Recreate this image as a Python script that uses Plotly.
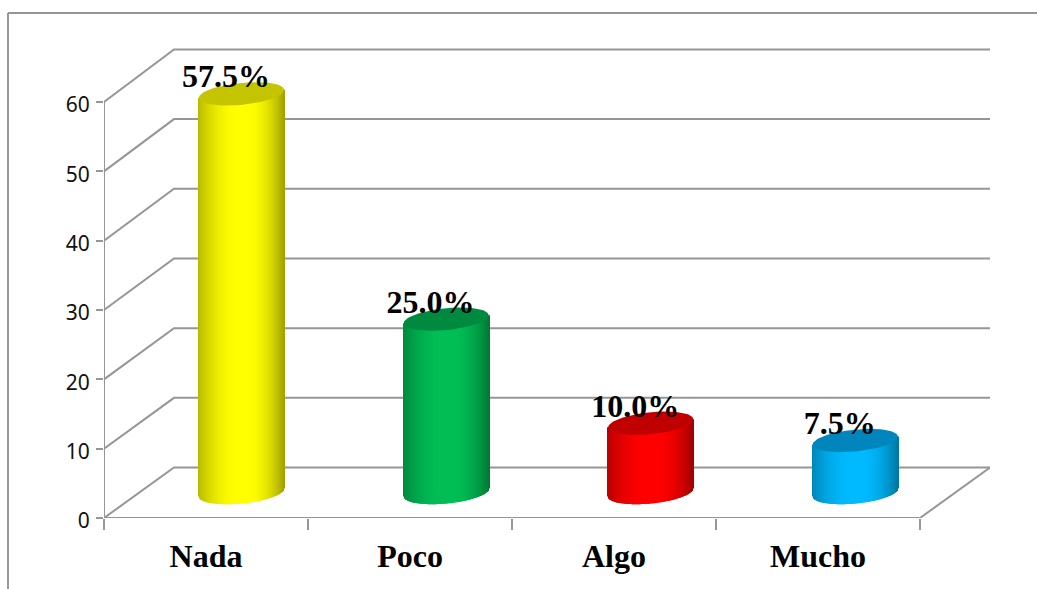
import numpy as np
import plotly.graph_objects as go

categories = ["Nada", "Poco", "Algo", "Mucho"]
values = [57.5, 25.0, 10.0, 7.5]
labels = ["57.5%", "25.0%", "10.0%", "7.5%"]
side_colors = [(255, 255, 0), (0, 190, 85), (255, 0, 0), (0, 186, 255)]
top_colors = ["#c4c400", "#008a40", "#c00000", "#0086bc"]
y_ticks = [0, 10, 20, 30, 40, 50, 60]

W, H = 1037, 589
L, R, T, B = 104, 990, 47, 518
PX_Y = 416 / 60
PX_X = 204.0
GREY = "#969696"

x_min = -0.5
x_front = 3.5
x_max = x_front + (R - 920) / PX_X
y_max = (B - T) / PX_Y
dx = 70 / PX_X
dy = 50.5 / PX_Y
back_gain = 1.005    # the back wall is drawn a touch taller than the front

bx = 35.5 / PX_X     # bar sits half way into the depth of the floor
step = 1.003
by = 25.5 / PX_Y
half = 42.5 / PX_X
ry = 11 / PX_Y
tilt = 4 / PX_Y
n = 86

fig = go.Figure()

# Walls and floor (bottom subplot, underneath the bars)
gx, gy = [], []
for v in y_ticks:
    gx += [x_min, x_min + dx, x_max, None]
    gy += [v, v * back_gain + dy, v * back_gain + dy, None]
gx += [x_min, x_min, None, x_min, x_front, x_max]
gy += [0, y_ticks[-1], None, 0, 0, dy]
fig.add_trace(go.Scatter(x=gx, y=gy, mode="lines", line=dict(color=GREY, width=2),
                         cliponaxis=False, hoverinfo="skip", showlegend=False))

t = np.linspace(-1, 1, n)
strip = 2 * half / (n - 1) * 1.2


def shade(u):
    left = 1 - 0.27 * np.clip((-u - 0.05) / 0.95, 0, 1) ** 2
    right = 1 - 0.36 * np.clip((u - 0.15) / 0.85, 0, 1) ** 2
    return left * right


for i, v in enumerate(values):
    cx = i * step + bx
    base = by - ry * np.sqrt(1 - t ** 2) + tilt * t
    top = by + v + tilt * t
    s = shade(t)
    cols = [f"rgb({int(side_colors[i][0]*k)},{int(side_colors[i][1]*k)},{int(side_colors[i][2]*k)})" for k in s]
    fig.add_trace(go.Bar(x=cx + half * t, y=top - base, base=base, width=strip,
                         marker=dict(color=cols, line=dict(width=0)),
                         xaxis="x2", yaxis="y2", hoverinfo="skip", showlegend=False))
    th = np.linspace(0, 2 * np.pi, 80)
    fig.add_trace(go.Scatter(x=cx + half * np.cos(th),
                             y=by + v + ry * np.sin(th) + tilt * np.cos(th),
                             mode="lines", fill="toself", fillcolor=top_colors[i],
                             line=dict(width=0, color=top_colors[i]),
                             xaxis="x2", yaxis="y2", hoverinfo="skip", showlegend=False))

fig.add_trace(go.Scatter(
    x=[i * step + bx - 15.5 / PX_X for i in range(len(values))],
    y=[by + v + 14.5 / PX_Y for v in values],
    mode="text", text=labels, textposition="middle center",
    textfont=dict(family="Liberation Serif", size=32, color="black"),
    texttemplate="<b>%{text}</b>",
    xaxis="x2", yaxis="y2", cliponaxis=False, hoverinfo="skip", showlegend=False))


def paper_x(p):
    return (p - L) / (R - L)


def paper_y(p):
    return (B - p) / (B - T)


frame = dict(type="line", xref="paper", yref="paper", layer="below",
             line=dict(color=GREY, width=2))

fig.update_layout(
    width=W, height=H, autosize=False,
    margin=dict(l=L, r=W - R, t=T, b=H - B, autoexpand=False),
    paper_bgcolor="white", plot_bgcolor="white",
    barmode="overlay", showlegend=False,
    shapes=[
        dict(frame, x0=paper_x(8), x1=paper_x(8), y0=paper_y(H), y1=paper_y(13)),
        dict(frame, x0=paper_x(8), x1=paper_x(W), y0=paper_y(13), y1=paper_y(13)),
    ],
    xaxis=dict(range=[x_min, x_max], showgrid=False, zeroline=False, showline=False,
               tickmode="array", tickvals=list(range(len(categories))), ticktext=[f"<b>{c}</b>" for c in categories],
               ticks="outside", ticklen=10, tickcolor="rgba(0,0,0,0)",
               tickfont=dict(family="Liberation Serif", size=32, color="black"),
               minor=dict(tickmode="array", tickvals=[-0.5, 0.5, 1.5, 2.5, 3.5], ticks="outside",
                          ticklen=11, tickwidth=2, tickcolor=GREY, showgrid=False)),
    yaxis=dict(range=[0, y_max], showgrid=False, zeroline=False, showline=False,
               tickmode="array", tickvals=y_ticks, ticks="outside", ticklen=7, tickwidth=2,
               ticklabelshift=3, ticklabelstandoff=2,
               tickcolor=GREY, tickfont=dict(family="Noto Sans", size=21, color="#111111")),
    xaxis2=dict(range=[x_min, x_max], overlaying="x", visible=False),
    yaxis2=dict(range=[0, y_max], overlaying="y", visible=False),
)

fig.write_html("out.html", config=dict(displayModeBar=False),
               post_script="document.body.style.margin='0';document.body.style.overflow='hidden';")
